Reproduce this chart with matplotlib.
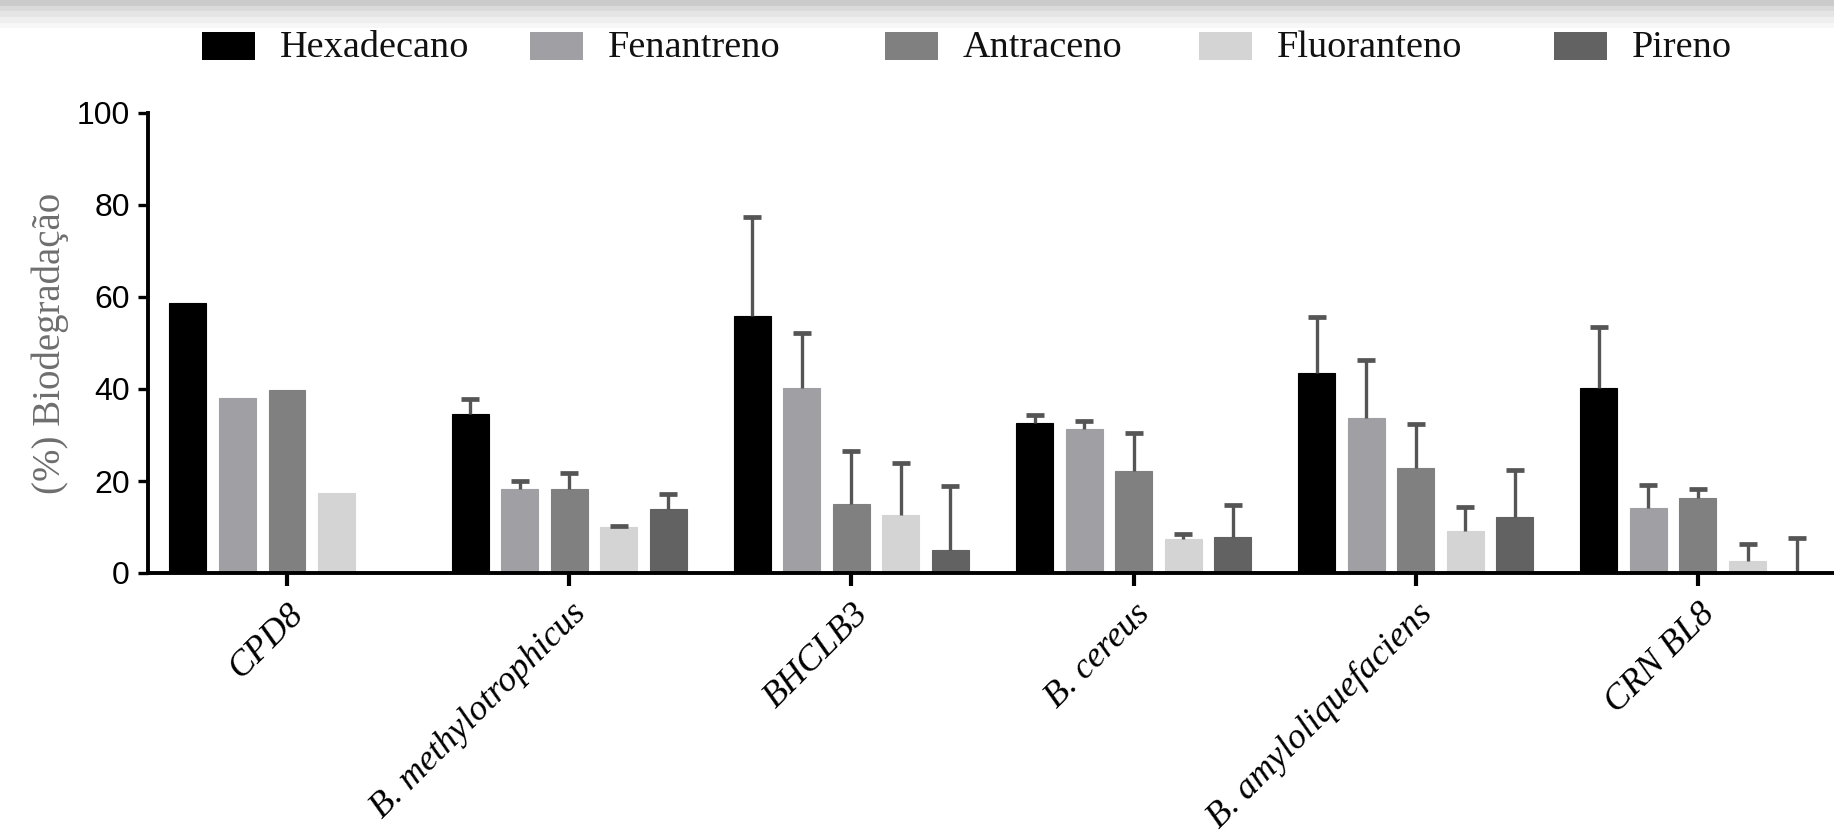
import numpy as np
import matplotlib
matplotlib.use("Agg")
import matplotlib.pyplot as plt
from matplotlib.patches import Rectangle
from matplotlib.transforms import ScaledTranslation

# ---------------- data ----------------
categories = ["CPD8", "B. methylotrophicus", "BHCLB3", "B. cereus",
              "B. amyloliquefaciens", "CRN BL8"]
series = ["Hexadecano", "Fenantreno", "Antraceno", "Fluoranteno", "Pireno"]

hexadecano  = [58.6, 34.5, 55.8, 32.6, 43.4, 40.3]
fenantreno  = [38.0, 18.2, 40.3, 31.4, 33.7, 14.1]
antraceno   = [39.8, 18.2, 15.0, 22.2, 22.9, 16.4]
fluoranteno = [17.4,  9.9, 12.6,  7.5,  9.2,  2.7]
pireno      = [np.nan, 13.9, 5.0,  7.9, 12.1,  0.0]

err_hexadecano  = [0.0, 3.3, 21.5, 1.8, 12.2, 13.2]
err_fenantreno  = [0.0, 1.7, 11.9, 1.7, 12.7,  5.0]
err_antraceno   = [0.0, 3.6, 11.5, 8.2,  9.4,  1.9]
err_fluoranteno = [0.0, 0.3, 11.3, 1.0,  5.1,  3.7]
err_pireno      = [0.0, 3.3, 13.9, 6.8, 10.4,  7.7]

yticks = [0, 20, 40, 60, 80, 100]
ylabel = "(%) Biodegradação"

values = [hexadecano, fenantreno, antraceno, fluoranteno, pireno]
errors = [err_hexadecano, err_fenantreno, err_antraceno, err_fluoranteno, err_pireno]
colors = ["#000000", "#a0a0a4", "#808080", "#d4d4d4", "#626262"]

# ---------------- figure ----------------
W, H = 1834, 832
fig = plt.figure(figsize=(W / 100, H / 100), dpi=100)
fig.patch.set_facecolor("white")

# top grey strip (screenshot chrome)
bands = [(0, 6, "#cbcbcb"), (6, 11, "#dadada"), (11, 17, "#e5e5e5"),
         (17, 23, "#efefef"), (23, 28, "#f7f7f7")]
for y0, y1, c in bands:
    fig.add_artist(Rectangle((0, 1 - y1 / H), 1, (y1 - y0) / H,
                             transform=fig.transFigure, color=c, lw=0))

ax = fig.add_axes([148 / W, 1 - 573 / H, 1 - 148 / W, (573 - 113) / H])

x = np.arange(len(categories))
pitch = 0.1755
width = 0.131
for i, (vals, errs, c) in enumerate(zip(values, errors, colors)):
    pos = x + (i - 2) * pitch
    ax.bar(pos, vals, width, color=c, edgecolor=c, linewidth=0.8, zorder=2)
    v = np.array(vals, dtype=float)
    e = np.array(errs, dtype=float)
    mask = (~np.isnan(v)) & (e > 0)
    # upper-only error bars: stem + top cap
    ax.errorbar(pos[mask], v[mask], yerr=[np.zeros(mask.sum()), e[mask]],
                fmt="none", ecolor="#555555", elinewidth=2.4, capsize=0,
                zorder=3)
    ax.plot(pos[mask], v[mask] + e[mask], ls="none", marker="_",
            markersize=13, markeredgewidth=3.4, color="#555555", zorder=3)

ax.set_xlim(-0.4926, 5.482)
ax.set_ylim(0, 100)
ax.set_yticks(yticks)
ax.set_yticklabels([str(t) for t in yticks], family="Liberation Sans",
                   fontsize=23)
ax.set_xticks(x)
ax.set_xticklabels(categories, family="Liberation Serif", style="italic",
                   fontsize=26, rotation=45, ha="right", va="top",
                   rotation_mode="anchor")
for lab in ax.get_xticklabels():
    lab.set_transform(lab.get_transform() +
                      ScaledTranslation(1 / 100, 3 / 100, fig.dpi_scale_trans))

for s in ["top", "right"]:
    ax.spines[s].set_visible(False)
for s in ["left", "bottom"]:
    ax.spines[s].set_linewidth(2.8)
    ax.spines[s].set_zorder(4)
ax.tick_params(axis="y", length=7, width=2.4, pad=6)
ax.tick_params(axis="x", length=9.5, width=3.0, pad=8)

ax.set_ylabel(ylabel, family="Liberation Serif", fontsize=28, color="#6e6e6e")
ax.yaxis.set_label_coords(-0.047, 0.5)

# legend (manual placement)
patch_x = [202, 530, 885, 1199, 1554]
for px, lab, c in zip(patch_x, series, colors):
    fig.add_artist(Rectangle((px / W, 1 - 60 / H), 53 / W, 28 / H,
                             transform=fig.transFigure, color=c, lw=0))
    fig.text((px + 78) / W, 1 - 57 / H, lab, family="Liberation Serif",
             fontsize=27.5, va="baseline", ha="left", color="#111111")

fig.savefig("out.png", dpi=100)
